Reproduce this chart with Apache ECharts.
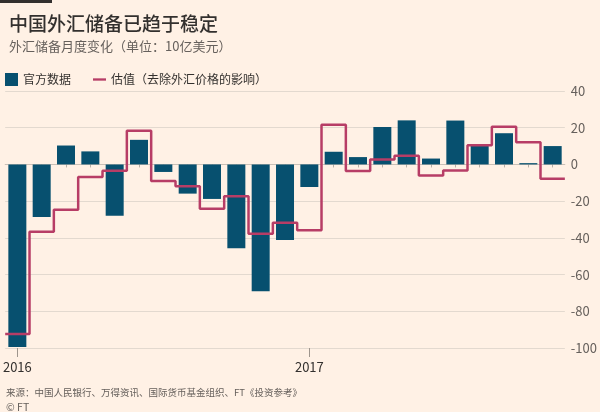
<!DOCTYPE html>
<html>
<head>
<meta charset="utf-8">
<script src="https://cdn.jsdelivr.net/npm/echarts@6/dist/echarts.min.js"></script>
<style>
html,body{margin:0;padding:0;background:#fff1e5;}
#c{width:600px;height:412px;}
</style>
</head>
<body>
<div id="c"></div>
<script>
// Months Jan 2016 .. Nov 2017
const months = ['2016-01','2016-02','2016-03','2016-04','2016-05','2016-06','2016-07','2016-08','2016-09','2016-10','2016-11','2016-12',
                '2017-01','2017-02','2017-03','2017-04','2017-05','2017-06','2017-07','2017-08','2017-09','2017-10','2017-11'];
// 官方数据 (official change, $bn)
const official = [-99.5, -28.6, 10.3, 7.1, -27.9, 13.4, -4.1, -15.9, -18.8, -45.7, -69.1, -41.1,
                  -12.3, 6.9, 4.0, 20.4, 24.0, 3.2, 23.9, 10.8, 17.0, 0.7, 10.0];
// 估值 (excluding FX valuation effects)
const estimated = [-92.4, -36.7, -24.7, -6.8, -3.4, 18.3, -9.0, -11.9, -24.2, -17.4, -37.8, -31.8,
                   -35.8, 21.6, -3.6, 2.7, 4.7, -6.0, -3.3, 10.4, 20.5, 12.1, -7.8];
const yTicks = {min: -100, max: 40, interval: 20};
const yearLabels = {'2016-01': '2016', '2017-01': '2017'};

const titleText = '中国外汇储备已趋于稳定';
const subtitleText = '外汇储备月度变化（单位：10亿美元）';
const seriesNames = ['官方数据', '估值（去除外汇价格的影响）'];
const sourceText = '来源：中国人民银行、万得资讯、国际货币基金组织、FT《投资参考》';
const creditText = '© FT';

// step line points built from the estimated values, spanning each month's band
const stepData = [];
estimated.forEach((v, i) => { stepData.push([i - 0.5, v]); stepData.push([i + 0.5, v]); });

const CJK = "'Noto Sans CJK SC', 'Noto Sans', sans-serif";
const chart = echarts.init(document.getElementById('c'), null, {renderer: 'canvas'});
chart.setOption({
  backgroundColor: '#fff1e5',
  animation: false,
  textStyle: {fontFamily: CJK},
  title: [
    {text: titleText, left: 4, top: 9, textStyle: {fontSize: 19, fontWeight: 500, color: '#33302e', fontFamily: CJK}},
    {text: subtitleText, left: 4, top: 35, textStyle: {fontSize: 13, fontWeight: 'normal', color: '#66605c', fontFamily: CJK}},
    {text: sourceText, left: 1, top: 383, textStyle: {fontSize: 9.5, fontWeight: 'normal', color: '#66605c', fontFamily: CJK}},
    {text: creditText, left: 1, top: 397, textStyle: {fontSize: 10.5, fontWeight: 'normal', color: '#66605c', fontFamily: CJK}}
  ],
  graphic: [
    {type: 'rect', left: 0, top: 0, shape: {width: 52, height: 3}, style: {fill: '#33302e'}}
  ],
  legend: {
    left: 0, top: 68, itemGap: 22, itemWidth: 13, itemHeight: 13,
    textStyle: {fontSize: 12, color: '#33302e', fontFamily: CJK},
    data: [
      {name: seriesNames[0], icon: 'rect'},
      {name: seriesNames[1], icon: 'path://M0,0 H14 V2.5 H0 Z'}
    ]
  },
  grid: {left: 4.5, right: 32, top: 91, bottom: 64, containLabel: false},
  xAxis: [
    {
      type: 'category', data: months, boundaryGap: true,
      axisLine: {show: true, lineStyle: {color: '#c9c0b7', width: 1}},
      axisTick: {show: true, alignWithLabel: true, interval: 0, length: 3, lineStyle: {color: '#b8afa6'}},
      axisLabel: {
        interval: 0, margin: 13, fontSize: 13, color: '#33302e', fontFamily: CJK,
        formatter: v => yearLabels[v] || ''
      },
      splitLine: {show: false}
    },
    {
      type: 'category', data: months, boundaryGap: true, position: 'bottom',
      axisLine: {show: false},
      axisTick: {show: true, alignWithLabel: true, length: 9, interval: (i, v) => !!yearLabels[v], lineStyle: {color: '#9e958d'}},
      axisLabel: {show: false},
      splitLine: {show: false}
    },
    {
      type: 'value', min: -0.5, max: months.length - 0.5, show: false
    }
  ],
  yAxis: {
    type: 'value', position: 'right', min: yTicks.min, max: yTicks.max, interval: yTicks.interval,
    axisLine: {show: false}, axisTick: {show: false},
    axisLabel: {margin: 6, fontSize: 13, color: '#66605c', fontFamily: CJK, align: 'left'},
    splitLine: {show: true, lineStyle: {color: '#e3d9cf', width: 1}}
  },
  series: [
    {
      name: seriesNames[0], type: 'bar', xAxisIndex: 0, data: official,
      barWidth: 18, itemStyle: {color: '#07506f'}
    },
    {
      name: seriesNames[1], type: 'line', xAxisIndex: 2, data: stepData,
      symbol: 'none', showSymbol: false,
      lineStyle: {color: '#b73d66', width: 2.5},
      itemStyle: {color: '#b73d66'}, z: 5
    }
  ]
});
</script>
</body>
</html>
